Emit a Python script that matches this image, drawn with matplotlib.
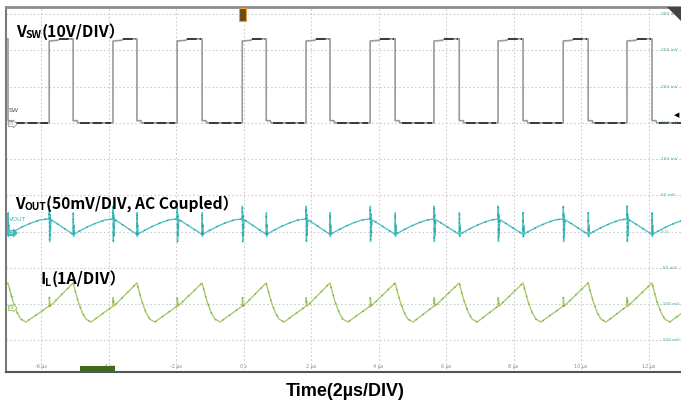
import numpy as np
import matplotlib
matplotlib.use('Agg')
import matplotlib.pyplot as plt
from matplotlib.patches import Rectangle, Polygon

W, H = 681, 404

#############################################################################
## data
## time in us, amplitude in "screen mV" (right hand scale of the scope)
x_ticks = [-6, -4, -2, 0, 2, 4, 6, 8, 10, 12]
x_tick_labels = ['-6 µs', '-4 µs', '-2 µs', '0 s', '2 µs', '4 µs', '6 µs', '8 µs', '10 µs', '12 µs']
y_ticks = [300, 250, 200, 150, 100, 50, 0, -50, -100, -150]
y_tick_labels = ['300 mV', '250 mV', '200 mV', '150 mV', '100 mV', '50 mV', '0 V', '-50 mV', '-100 mV', '-150 mV']

# switch node edges
sw_rise = [-5.76, -3.87, -1.97, -0.04, 1.85, 3.75, 5.64, 7.54, 9.47, 11.36, 13.26]
sw_fall = [-6.98, -5.05, -3.16, -1.23, 0.67, 2.56, 4.49, 6.39, 8.28, 10.21, 12.10]
sw_low = 150.
sw_top_dt = [0.0, 0.25, 0.32]        # flat top shape after rising edge
sw_top_mv = [263., 264., 266.]
sw_ring_dt = [0.0, 0.12, 0.14]       # small bump after falling edge
sw_ring_mv = [153., 153., 150.]

# output ripple (AC coupled)
vout_off_dt = [0.05, 0.2, 0.45, 0.7, 0.95, 1.12]
vout_off_mv = [-3., 1., 7., 12., 16., 17.]
vout_fall_dt = [0.0, 0.005, 0.012, 0.02, 0.03]
vout_fall_mv = [-4., 26., -7., 9., -4.]
vout_rise_dt = [0.0, 0.005, 0.012, 0.02, 0.03, 0.045, 0.07]
vout_rise_mv = [17., 35., -14., 24., -6., 12., 16.]

# inductor current
il_fall_dt = [0.0, 0.06, 0.15, 0.27, 0.38, 0.53]
il_fall_mv = [-71., -82., -97., -112., -121., -125.]
il_rise_dt = [0.0, 0.005, 0.02, 0.03]
il_rise_mv = [-103., -91., -98., -103.]

t_start, t_end = -7.04, 12.96

#############################################################################
## build traces
t_sw, y_sw = [t_start], [sw_top_mv[-1]]
t_vo, y_vo = [t_start], [-2.]
t_il, y_il = [t_start], [-73.]
for i, f in enumerate(sw_fall):
    r = sw_rise[i]
    # falling edge
    t_sw += [f]; y_sw += [sw_top_mv[-1]]
    t_sw += [f + d for d in sw_ring_dt]; y_sw += sw_ring_mv
    t_vo += [f + d for d in vout_fall_dt]; y_vo += vout_fall_mv
    t_il += [f + d for d in il_fall_dt]; y_il += il_fall_mv
    # off time
    for d, v in zip(vout_off_dt, vout_off_mv):
        if f + d < r:
            t_vo.append(f + d); y_vo.append(v)
    # rising edge
    t_sw += [r]; y_sw += [sw_low]
    t_sw += [r + d for d in sw_top_dt]; y_sw += sw_top_mv
    t_vo += [r + d for d in vout_rise_dt]; y_vo += vout_rise_mv
    t_il += [r + d for d in il_rise_dt]; y_il += il_rise_mv

#############################################################################
## figure
fig = plt.figure(figsize=(W / 100, H / 100), dpi=100)
ax = fig.add_axes([6 / W, (H - 372) / H, (W - 6) / W, 365 / H])
ax.set_xlim(t_start, t_end)
ax.set_ylim(-194, 310)
ax.set_xticks([]); ax.set_yticks([])
ax.spines['right'].set_visible(False)
ax.spines['left'].set_color('#7a7a7a'); ax.spines['left'].set_linewidth(1.5)
ax.spines['top'].set_color('#8c8c8c'); ax.spines['top'].set_linewidth(2)
ax.spines['bottom'].set_color('#555555'); ax.spines['bottom'].set_linewidth(1.5)

for xv in x_ticks:
    ax.axvline(xv, color='#cccccc', ls=(0, (1.5, 2)), lw=0.8, zorder=0)
for yv in y_ticks:
    ax.axhline(yv, color='#cccccc', ls=(0, (1.5, 2)), lw=0.8, zorder=0)

ax.plot(t_sw, y_sw, color='#9a9a9a', lw=1.2)
for i, f in enumerate(sw_fall):
    r = sw_rise[i]
    ax.hlines(sw_low, f + 0.2, r - 0.05, color='#3a3a3a', lw=1.4, linestyles=(0, (5, 1.5)))
    if i + 1 < len(sw_fall):
        ax.hlines(sw_top_mv[-1], r + 0.3, sw_fall[i + 1] - 0.03, color='#3a3a3a', lw=1.4, linestyles=(0, (5, 1.5)))

ax.plot(t_vo, y_vo, color='#55c4c4', lw=1.0)
ax.plot(t_vo, y_vo, color='#2a9d9d', lw=1.0, ls=(0, (1, 5)))
ax.plot(t_il, y_il, color='#aacd6c', lw=1.0)
ax.plot(t_il, y_il, color='#80a848', lw=1.0, ls=(0, (1, 5)))

for xv, lab in zip(x_ticks, x_tick_labels):
    ax.text(xv, -186, lab, fontsize=3.5, color='#888888', ha='center', va='center')
for yv, lab in zip(y_ticks, y_tick_labels):
    ax.text(12.36, yv, lab, fontsize=3.2, color='#4aa9a9', ha='left', va='center')

## scope markers
def px(x, y):
    return x / W, 1 - y / H

fig.text(*px(9, 112), 'SW', fontsize=4.5, color='#555555')
fig.text(*px(9, 124), 'C1', fontsize=3, color='#888888', va='center',
         bbox=dict(boxstyle='rarrow,pad=0.15', fc='white', ec='#999999', lw=0.6))
fig.text(*px(9, 221), 'VOUT', fontsize=4.5, color='#3fb8b8')
fig.text(*px(9, 233), 'C2', fontsize=3, color='white', va='center',
         bbox=dict(boxstyle='rarrow,pad=0.15', fc='#3fb8b8', ec='#3fb8b8', lw=0.6))
fig.text(*px(9, 297), 'IL', fontsize=4.5, color='#9cc55a')
fig.text(*px(9, 308), 'C4', fontsize=3, color='#7fa540', va='center',
         bbox=dict(boxstyle='rarrow,pad=0.15', fc='white', ec='#9cc55a', lw=0.6))

fig.patches.append(Rectangle(px(239, 21), 7 / W, 13 / H, transform=fig.transFigure,
                             fc='#6a4a1a', ec='#f0a030', lw=0.8))
fig.patches.append(Polygon([px(667, 7), px(681, 7), px(681, 21)], closed=True,
                           transform=fig.transFigure, fc='#444444', ec='none'))
fig.patches.append(Rectangle(px(80, 372), 35 / W, 6 / H, transform=fig.transFigure,
                             fc='#3d6b1f', ec='none'))
fig.text(*px(674, 115), '◀', fontsize=5, color='black', va='center')

## annotations
cjk = ['Noto Sans CJK SC', 'DejaVu Sans']
renderer = fig.canvas.get_renderer()

def rich(x, y, parts):
    for s, size, dy in parts:
        t = fig.text(*px(x, y + dy), s, fontsize=size, fontweight='bold', family=cjk, va='baseline')
        x += t.get_window_extent(renderer).width

rich(16, 37, [('V', 11.5, 0), ('SW', 7.5, 1.5), ('(10V/DIV）', 11.5, 0)])
rich(15, 209, [('V', 11.2, 0), ('OUT', 7.3, 1.5), ('(50mV/DIV, AC Coupled）', 11.2, 0)])
rich(40, 284, [('I', 11.5, 0), ('L', 7.5, 1.5), ('(1A/DIV）', 11.5, 0)])

fig.text(*px(345, 391), 'Time(2µs/DIV)', fontsize=13, fontweight='bold',
         family='Liberation Sans', ha='center', va='center')

fig.savefig('out.png', dpi=100)
